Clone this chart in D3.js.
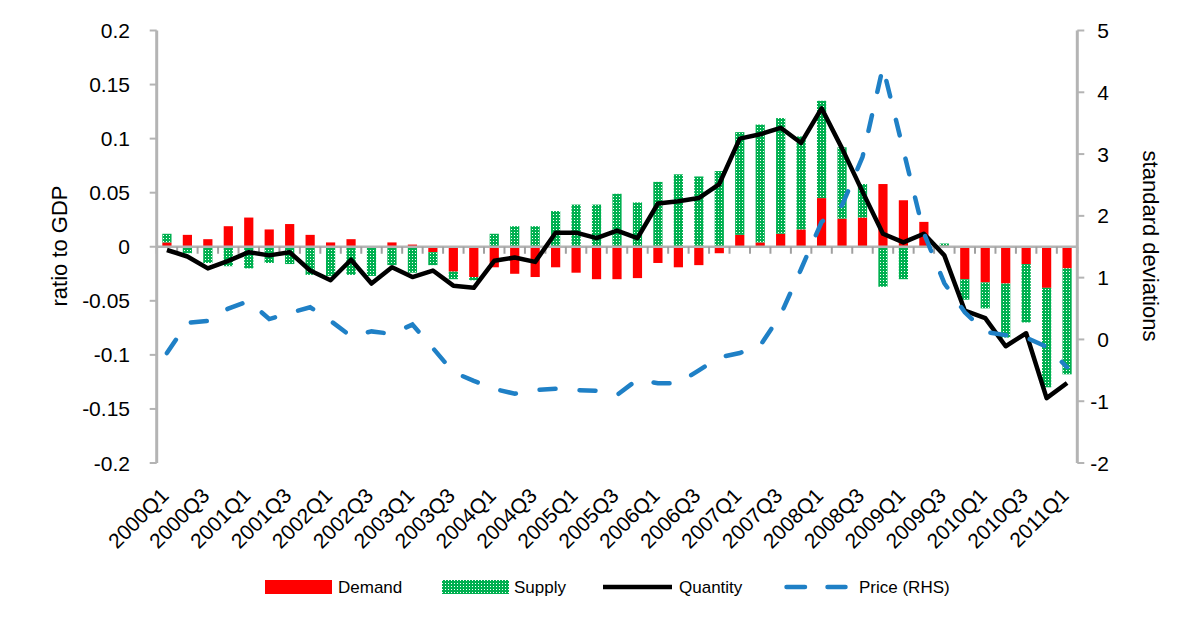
<!DOCTYPE html>
<html>
<head>
<meta charset="utf-8">
<script src="https://cdn.jsdelivr.net/npm/d3@7"></script>
<style>
  body { margin: 0; background: #fff; }
  svg { display: block; font-family: "Liberation Sans", Arial, sans-serif; }
</style>
</head>
<body>
<svg id="chart" width="1196" height="622"></svg>
<script>
// quarters 2000Q1 .. 2011Q1
var quarters = [];
for (var yr = 2000; yr <= 2011; yr++) {
  for (var q = 1; q <= 4; q++) {
    if (yr === 2011 && q > 1) break;
    quarters.push(yr + "Q" + q);
  }
}

var demand = [0.004, 0.011, 0.007, 0.019, 0.027, 0.016, 0.021, 0.011, 0.004, 0.007,
  -0.001, 0.004, 0.002, -0.005, -0.023, -0.028, -0.019, -0.025, -0.028, -0.019,
  -0.024, -0.030, -0.030, -0.029, -0.015, -0.019, -0.017, -0.006, 0.011, 0.004,
  0.012, 0.016, 0.045, 0.026, 0.027, 0.058, 0.043, 0.023, 0.001, -0.030,
  -0.033, -0.034, -0.016, -0.038, -0.020];

var supply = [0.008, -0.006, -0.015, -0.018, -0.020, -0.015, -0.016, -0.026, -0.027, -0.026,
  -0.026, -0.017, -0.024, -0.012, -0.007, -0.003, 0.012, 0.019, 0.019, 0.033,
  0.039, 0.039, 0.049, 0.041, 0.060, 0.067, 0.065, 0.070, 0.095, 0.109,
  0.107, 0.086, 0.090, 0.066, 0.031, -0.037, -0.030, 0.000, 0.002, -0.019,
  -0.024, -0.050, -0.054, -0.092, -0.098];

var quantity = [-0.003, -0.009, -0.020, -0.013, -0.005, -0.008, -0.005, -0.022, -0.031, -0.012,
  -0.034, -0.019, -0.028, -0.022, -0.036, -0.038, -0.013, -0.010, -0.014, 0.013,
  0.013, 0.008, 0.015, 0.008, 0.040, 0.042, 0.045, 0.058, 0.100, 0.104,
  0.110, 0.096, 0.128, 0.091, 0.051, 0.012, 0.004, 0.012, -0.008, -0.059,
  -0.066, -0.092, -0.080, -0.140, -0.126];

// standard deviations, right hand scale
var price = [-0.22, 0.27, 0.30, 0.50, 0.62, 0.33, 0.43, 0.52, 0.30, 0.05,
  0.13, 0.09, 0.24, -0.14, -0.53, -0.67, -0.80, -0.88, -0.82, -0.80,
  -0.82, -0.83, -0.90, -0.65, -0.71, -0.71, -0.50, -0.29, -0.22, -0.10,
  0.40, 1.14, 1.90, 2.17, 2.95, 4.41, 3.06, 1.72, 0.91, 0.44,
  0.12, 0.07, 0.03, -0.12, -0.45];

var leftTicks = [0.2, 0.15, 0.1, 0.05, 0, -0.05, -0.1, -0.15, -0.2];
var rightTicks = [5, 4, 3, 2, 1, 0, -1, -2];

var RED = "#ff0000", GREEN = "#00b050", BLUE = "#1f80c6", AXIS = "#b4b4b4";

var svg = d3.select("#chart");
var plot = { left: 156.7, right: 1077.3, top: 30.5, bottom: 463 };

var x = d3.scaleBand().domain(quarters).range([plot.left, plot.right]).paddingInner(0).paddingOuter(0);
var y = d3.scaleLinear().domain([-0.2, 0.2]).range([plot.bottom, plot.top]);
var y2 = d3.scaleLinear().domain([-2, 5]).range([plot.bottom, plot.top]);

// dotted fill for supply bars
var pat = svg.append("defs").append("pattern")
  .attr("id", "dots")
  .attr("patternUnits", "userSpaceOnUse")
  .attr("width", 3).attr("height", 3);
pat.append("rect").attr("width", 3).attr("height", 3).attr("fill", GREEN);
pat.append("rect").attr("x", 1).attr("y", 1).attr("width", 1).attr("height", 1).attr("fill", "#fff");

function drawBars() {
  var table = quarters.map(function (q, i) {
    return { q: q, demand: demand[i], supply: supply[i] };
  });
  var series = d3.stack().keys(["demand", "supply"]).offset(d3.stackOffsetDiverging)(table);
  var bw = x.bandwidth() * 0.45;
  svg.append("g").selectAll("g")
    .data(series)
    .enter()
    .append("g")
    .attr("fill", function (s) { return s.key === "demand" ? RED : "url(#dots)"; })
    .selectAll("rect")
    .data(function (s) { return s; })
    .enter()
    .append("rect")
    .attr("x", function (d) { return x(d.data.q) + (x.bandwidth() - bw) / 2; })
    .attr("width", bw)
    .attr("y", function (d) { return y(Math.max(d[0], d[1])); })
    .attr("height", function (d) { return Math.abs(y(d[0]) - y(d[1])); });
}

function drawAxes() {
  var g = svg.append("g");
  // zero line with category ticks
  g.append("line")
    .attr("x1", plot.left).attr("x2", plot.right)
    .attr("y1", y(0)).attr("y2", y(0))
    .attr("stroke", AXIS).attr("stroke-width", 2.5);
  g.selectAll(".xt")
    .data(d3.range(quarters.length + 1))
    .enter()
    .append("line")
    .attr("x1", function (i) { return plot.left + i * x.step(); })
    .attr("x2", function (i) { return plot.left + i * x.step(); })
    .attr("y1", y(0)).attr("y2", y(0) + 7)
    .attr("stroke", "#a0a0a0").attr("stroke-width", 2);

  // left axis
  g.append("line")
    .attr("x1", plot.left).attr("x2", plot.left)
    .attr("y1", plot.top).attr("y2", plot.bottom)
    .attr("stroke", AXIS).attr("stroke-width", 3);
  g.selectAll(".lt").data(leftTicks).enter().append("line")
    .attr("x1", plot.left - 7).attr("x2", plot.left)
    .attr("y1", function (d) { return y(d); })
    .attr("y2", function (d) { return y(d); })
    .attr("stroke", AXIS).attr("stroke-width", 2);
  g.selectAll(".ll").data(leftTicks).enter().append("text")
    .attr("x", 130)
    .attr("y", function (d) { return y(d); })
    .attr("dy", "0.36em")
    .attr("text-anchor", "end")
    .style("font-size", "21px")
    .text(function (d) { return String(d); });

  // right axis
  g.append("line")
    .attr("x1", plot.right).attr("x2", plot.right)
    .attr("y1", plot.top).attr("y2", plot.bottom)
    .attr("stroke", AXIS).attr("stroke-width", 3);
  g.selectAll(".rt").data(rightTicks).enter().append("line")
    .attr("x1", plot.right).attr("x2", plot.right + 7)
    .attr("y1", function (d) { return y2(d); })
    .attr("y2", function (d) { return y2(d); })
    .attr("stroke", AXIS).attr("stroke-width", 2);
  g.selectAll(".rl").data(rightTicks).enter().append("text")
    .attr("x", 1109)
    .attr("y", function (d) { return y2(d); })
    .attr("dy", "0.36em")
    .attr("text-anchor", "end")
    .style("font-size", "21px")
    .text(function (d) { return String(d); });

  // category labels, every other quarter
  g.selectAll(".xl")
    .data(quarters.filter(function (q, i) { return i % 2 === 0; }))
    .enter()
    .append("text")
    .attr("text-anchor", "end")
    .attr("transform", function (q) {
      return "translate(" + (x(q) + x.bandwidth() / 2 + 3) + ",497) rotate(-45)";
    })
    .style("font-size", "21px")
    .text(function (q) { return q; });

  g.append("text")
    .attr("transform", "translate(67,246) rotate(-90)")
    .attr("text-anchor", "middle")
    .style("font-size", "22px")
    .text("ratio to GDP");
  g.append("text")
    .attr("transform", "translate(1143,246) rotate(90)")
    .attr("text-anchor", "middle")
    .style("font-size", "22px")
    .text("standard deviations");
}

function drawLines() {
  var cx = function (d, i) { return x(quarters[i]) + x.bandwidth() / 2; };
  svg.append("path")
    .datum(quantity)
    .attr("fill", "none")
    .attr("stroke", "#000")
    .attr("stroke-width", 4.5)
    .attr("stroke-linejoin", "round")
    .attr("d", d3.line().x(cx).y(function (d) { return y(d); }));
  svg.append("path")
    .datum(price)
    .attr("fill", "none")
    .attr("stroke", BLUE)
    .attr("stroke-width", 4.5)
    .attr("stroke-linecap", "round")
    .attr("stroke-dasharray", "16 24")
    .attr("d", d3.line().x(cx).y(function (d) { return y2(d); }));
}

function drawLegend() {
  var g = svg.append("g").style("font-size", "17px");
  var ly = 587;
  g.append("rect").attr("x", 265).attr("y", ly - 7).attr("width", 67).attr("height", 14).attr("fill", RED);
  g.append("text").attr("x", 338).attr("y", ly).attr("dy", "0.36em").text("Demand");
  g.append("rect").attr("x", 442).attr("y", ly - 7).attr("width", 67).attr("height", 14).attr("fill", "url(#dots)");
  g.append("text").attr("x", 514).attr("y", ly).attr("dy", "0.36em").text("Supply");
  g.append("line").attr("x1", 603).attr("x2", 672).attr("y1", ly).attr("y2", ly)
    .attr("stroke", "#000").attr("stroke-width", 4.5);
  g.append("text").attr("x", 679).attr("y", ly).attr("dy", "0.36em").text("Quantity");
  g.append("line").attr("x1", 786.5).attr("x2", 845.5).attr("y1", ly).attr("y2", ly)
    .attr("stroke", BLUE).attr("stroke-width", 4.5)
    .attr("stroke-linecap", "round").attr("stroke-dasharray", "18.5 22.5");
  g.append("text").attr("x", 859).attr("y", ly).attr("dy", "0.36em").text("Price (RHS)");
}

drawBars();
drawAxes();
drawLines();
drawLegend();
</script>
</body>
</html>
